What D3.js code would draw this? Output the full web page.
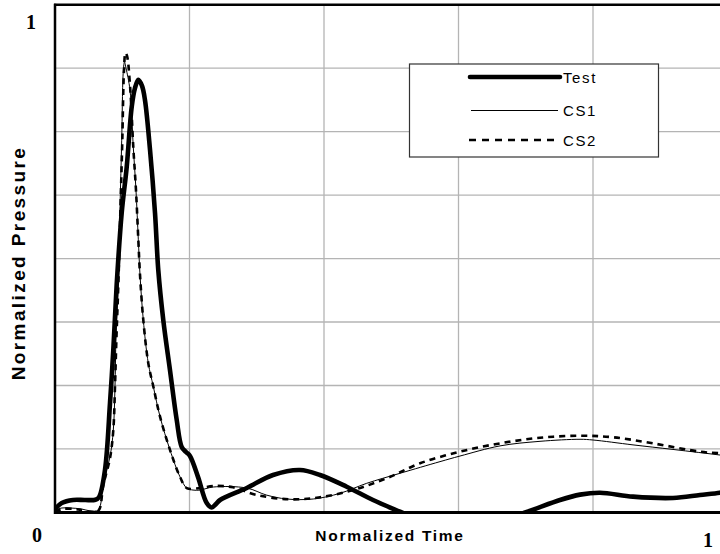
<!DOCTYPE html>
<html><head><meta charset="utf-8">
<script src="https://cdn.jsdelivr.net/npm/d3@7/dist/d3.min.js"></script>
<style>body{margin:0;background:#fff}svg{display:block}</style>
</head><body>
<svg id="c" width="720" height="554"></svg>
<script>
const testX=[0,0.0025,0.010,0.0268,0.0446,0.0600,0.0654,0.0743,0.0818,0.0867,0.0917,0.0992,0.1066,0.1141,0.119,0.1239,0.1294,0.1338,0.1413,0.1487,0.1536,0.1610,0.1710,0.1810,0.1884,0.1948,0.2007,0.2126,0.2256,0.2330,0.2394,0.2454,0.2851,0.3242,0.3643,0.3941,0.4338,0.4729,0.5130,0.5428,0.6022,0.6617,0.7014,0.7509,0.7807,0.8104,0.8595,0.9190,0.9591,0.9888,1.0];
const testY=[0.005,0.010,0.0185,0.0244,0.0244,0.0250,0.0300,0.0835,0.2155,0.320,0.448,0.590,0.680,0.799,0.836,0.852,0.840,0.812,0.714,0.590,0.477,0.379,0.280,0.182,0.129,0.119,0.111,0.070,0.0185,0.0097,0.0165,0.0244,0.048,0.0737,0.0835,0.0737,0.0506,0.0244,0.0014,-0.015,-0.025,-0.015,0.0008,0.0244,0.035,0.0388,0.031,0.0284,0.0343,0.0388,0.042];
const cs1X=[0,0.0104,0.0223,0.0397,0.052,0.0644,0.0718,0.0818,0.0867,0.0892,0.0907,0.0941,0.0967,0.0992,0.1016,0.1033,0.1056,0.1115,0.1164,0.1204,0.1239,0.1264,0.1313,0.1387,0.1462,0.1561,0.1710,0.1859,0.1958,0.2052,0.2156,0.2354,0.2851,0.3148,0.3445,0.3841,0.4238,0.4635,0.5130,0.5725,0.6022,0.6617,0.7212,0.7807,0.8000,0.8595,0.9190,0.9888,1.0];
const cs1Y=[0.005,0.0087,0.0087,0.0067,0.003,0.005,0.058,0.110,0.162,0.248,0.346,0.458,0.602,0.733,0.870,0.887,0.875,0.832,0.720,0.635,0.537,0.468,0.379,0.294,0.248,0.189,0.123,0.070,0.048,0.044,0.044,0.050,0.048,0.034,0.0264,0.0264,0.0376,0.0573,0.077,0.100,0.111,0.131,0.140,0.144,0.1426,0.133,0.124,0.113,0.111];
const cs2X=[0,0.0104,0.0297,0.0372,0.052,0.0644,0.0718,0.0818,0.0867,0.0892,0.0914,0.0944,0.0974,0.1001,0.1026,0.1048,0.1071,0.1115,0.1164,0.1204,0.1239,0.1264,0.1313,0.1387,0.1462,0.1561,0.1710,0.1859,0.1958,0.2156,0.2354,0.2647,0.2999,0.3494,0.3941,0.4436,0.4932,0.5428,0.6022,0.6617,0.7212,0.7807,0.8297,0.8892,0.9591,0.9888,1.0];
const cs2Y=[0.001,0.0067,0.0067,0.005,0.001,0.003,0.054,0.107,0.162,0.248,0.346,0.458,0.602,0.733,0.871,0.905,0.899,0.842,0.720,0.635,0.537,0.468,0.379,0.294,0.248,0.189,0.123,0.070,0.048,0.048,0.052,0.0494,0.0343,0.0258,0.0297,0.0441,0.0672,0.0967,0.1196,0.1360,0.147,0.151,0.148,0.136,0.1196,0.1164,0.115];
const xGrid=[0.2,0.4,0.6,0.8];
const yGrid=[0.125,0.25,0.375,0.5,0.625,0.75,0.875];
const seriesNames=["Test","CS1","CS2"];

const svg=d3.select("#c");
const L=55,R=727.5,T=4.7,B=512.4;
const x=d3.scaleLinear().domain([0,1]).range([L,R]);
const y=d3.scaleLinear().domain([0,1]).range([B,T]);

svg.append("defs").append("clipPath").attr("id","pc").append("rect")
 .attr("x",L).attr("y",T).attr("width",R-L).attr("height",B-T);

const g=svg.append("g");
g.selectAll(".vg").data(xGrid).join("line").attr("x1",d=>x(d)).attr("x2",d=>x(d))
 .attr("y1",T).attr("y2",B).attr("stroke","#b4b4b4").attr("stroke-width",1.3);
g.selectAll(".hg").data(yGrid).join("line").attr("y1",d=>y(d)).attr("y2",d=>y(d))
 .attr("x1",L).attr("x2",R).attr("stroke","#b4b4b4").attr("stroke-width",1.3);

const line=d3.line().x(d=>x(d[0])).y(d=>y(d[1])).curve(d3.curveCatmullRom.alpha(0.5));
const zip=(a,b)=>a.map((v,i)=>[v,b[i]]);
const pg=g.append("g").attr("clip-path","url(#pc)");
pg.append("path").datum(zip(cs1X,cs1Y)).attr("d",line).attr("fill","none").attr("stroke","#000").attr("stroke-width",1);
pg.append("path").datum(zip(cs2X,cs2Y)).attr("d",line).attr("fill","none").attr("stroke","#000").attr("stroke-width",2.6).attr("stroke-dasharray","6,5");
pg.append("path").datum(zip(testX,testY)).attr("d",line).attr("fill","none").attr("stroke","#000").attr("stroke-width",4.6).attr("stroke-linejoin","round");

// frame
g.append("line").attr("x1",L).attr("x2",L).attr("y1",T-1).attr("y2",B+1.5).attr("stroke","#000").attr("stroke-width",2.5);
g.append("line").attr("x1",L-1).attr("x2",720).attr("y1",B).attr("y2",B).attr("stroke","#000").attr("stroke-width",3);
g.append("line").attr("x1",L-1).attr("x2",720).attr("y1",T).attr("y2",T).attr("stroke","#000").attr("stroke-width",2.5);

// tick labels
const tk=svg.append("g").attr("font-family","'Liberation Serif','Times New Roman',serif").attr("font-weight","bold").attr("font-size",20).attr("text-anchor","middle");
tk.append("text").attr("x",31).attr("y",29).text("1");
tk.append("text").attr("x",37).attr("y",542).text("0");
tk.append("text").attr("x",708).attr("y",547).text("1");

// axis titles
svg.append("text").attr("x",390).attr("y",541).attr("text-anchor","middle")
 .attr("font-family","Arial, 'Liberation Sans', sans-serif").attr("font-weight","bold").attr("font-size",15.5)
 .attr("letter-spacing",1.7).text("Normalized Time");
svg.append("text").attr("transform","translate(25,263) rotate(-90)").attr("text-anchor","middle")
 .attr("font-family","Arial, 'Liberation Sans', sans-serif").attr("font-weight","bold").attr("font-size",19)
 .attr("letter-spacing",2.4).text("Normalized Pressure");

// legend
const lg=svg.append("g");
lg.append("rect").attr("x",409.5).attr("y",64).attr("width",249).attr("height",93).attr("fill","#fff").attr("stroke","#333").attr("stroke-width",1.2);
const ly=[77,110.5,140];
const styles=[{w:4.6,da:null,cap:"round",x1:470,x2:560},{w:1,da:null,cap:"butt",x1:471,x2:558},{w:2.6,da:"7,6",cap:"butt",x1:469,x2:560}];
seriesNames.forEach((n,i)=>{
 const s=styles[i];
 lg.append("line").attr("x1",s.x1).attr("x2",s.x2).attr("y1",ly[i]).attr("y2",ly[i]).attr("stroke","#000")
  .attr("stroke-width",s.w).attr("stroke-linecap",s.cap).attr("stroke-dasharray",s.da);
 lg.append("text").attr("x",563).attr("y",ly[i]+5.5).attr("font-family","Arial, 'Liberation Sans', sans-serif")
  .attr("font-size",15).attr("letter-spacing",1.6).text(n);
});
</script>
</body></html>
